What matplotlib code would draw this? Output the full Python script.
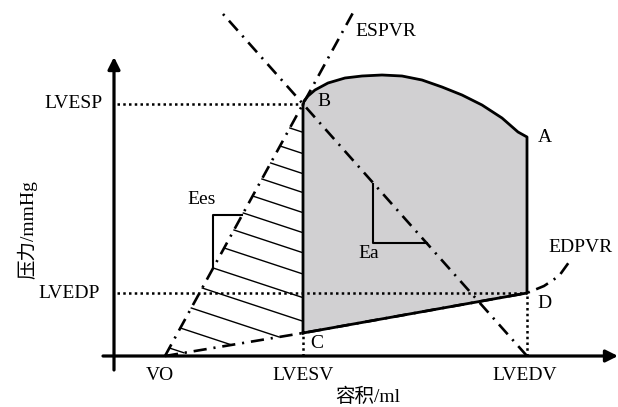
import numpy as np
import matplotlib
matplotlib.use('Agg')
import matplotlib.pyplot as plt

plt.rcParams['font.family'] = ['Liberation Serif', 'Noto Sans CJK SC']

# volumes and pressures (arbitrary units, origin at the axes crossing)
VO = 51
LVESV = 189
LVEDV = 413
LVESP = 252
LVEDP = 63
C_P = 23

# upper edge of the loop, from B round to A
eject_v = [189, 189, 190, 194, 201, 214, 231, 248, 268, 288, 308, 328, 348, 368, 388, 404, 413]
eject_p = [23, 250, 255, 260, 266, 273, 278, 280, 281, 280, 276, 269, 261, 251, 238, 224, 219]

# end-diastolic pressure-volume curve
edpvr_v = [VO, LVESV, LVEDV, 430, 445, 458]
edpvr_p = [0, C_P, LVEDP, 70, 80, 98]

# pressures where the hatch lines leave the ESPVR line
hatch_p = [228, 210, 193, 177, 160, 143, 126, 108, 88, 68, 48, 28, 8]

dashdot = (0, (5, 2.6, 0.8, 2.6))
dotted = (0, (1, 1.3))


def espvr_v(p):
	return VO + p*(LVESV - VO)/LVESP


def ea_v(p):
	return LVEDV - p*(LVEDV - LVESV)/LVESP


def main():
	fig = plt.figure(figsize=(6.18, 4.07), dpi=100)
	ax = fig.add_axes([0, 0, 1, 1])
	ax.set_xlim(-114, 504)
	ax.set_ylim(-51, 356)
	ax.axis('off')

	# axes with arrows
	ax.annotate('', xy=(0, 299), xytext=(0, -14),
		arrowprops=dict(arrowstyle='-|>', lw=2.3, color='k', mutation_scale=18, shrinkA=0, shrinkB=0))
	ax.annotate('', xy=(504, 0), xytext=(-11, 0),
		arrowprops=dict(arrowstyle='-|>', lw=2.3, color='k', mutation_scale=18, shrinkA=0, shrinkB=0))

	# pressure-volume loop
	loop_v = eject_v + [LVEDV, LVESV]
	loop_p = eject_p + [LVEDP, C_P]
	ax.fill(loop_v, loop_p, color='#d1d0d2', zorder=1)
	ax.plot(loop_v, loop_p, color='k', lw=2.0, solid_joinstyle='round', zorder=3)

	# reference dotted lines
	ax.plot([3, LVESV], [LVESP, LVESP], color='k', lw=1.8, ls=dotted)
	ax.plot([3, LVEDV], [LVEDP, LVEDP], color='k', lw=1.8, ls=dotted)
	ax.plot([LVESV, LVESV], [0, C_P], color='k', lw=1.8, ls=dotted)
	ax.plot([LVEDV, LVEDV], [0, LVEDP], color='k', lw=1.8, ls=dotted)

	# ESPVR, Ea and EDPVR lines
	ax.plot([VO, espvr_v(343)], [0, 343], color='k', lw=1.9, ls=dashdot, zorder=4)
	ax.plot([LVEDV, ea_v(343)], [0, 343], color='k', lw=1.9, ls=dashdot, zorder=4)
	ax.plot(edpvr_v, edpvr_p, color='k', lw=1.9, ls=dashdot, zorder=2)

	# hatching between ESPVR and the loop
	slope = 0.33
	edp_slope = C_P/(LVESV - VO)
	for p in hatch_p:
		v0 = espvr_v(p)
		p1 = p - slope*(LVESV - v0)
		if p1 >= C_P:
			v1 = LVESV
		else:
			v1 = (p + slope*v0 + edp_slope*VO)/(slope + edp_slope)
			p1 = edp_slope*(v1 - VO)
		ax.plot([v0, v1], [p, p1], color='k', lw=1.0, zorder=2)

	# Ees and Ea triangles
	ax.plot([espvr_v(141), 99, 99], [141, 141, 88], color='k', lw=1.5, zorder=3)
	ax.plot([259, 259, ea_v(113)], [172, 113, 113], color='k', lw=1.5, zorder=3)

	fs = 14
	ax.text(-11, LVESP, 'LVESP', fontsize=fs, ha='right', va='center')
	ax.text(-14, LVEDP, 'LVEDP', fontsize=fs, ha='right', va='center')
	ax.text(VO - 5, -20, 'VO', fontsize=fs, ha='center', va='center')
	ax.text(LVESV, -20, 'LVESV', fontsize=fs, ha='center', va='center')
	ax.text(LVEDV - 2, -20, 'LVEDV', fontsize=fs, ha='center', va='center')
	ax.text(203, 254, 'B', fontsize=fs, ha='left', va='center')
	ax.text(424, 219, 'A', fontsize=fs, ha='left', va='center')
	ax.text(196, 13, 'C', fontsize=fs, ha='left', va='center')
	ax.text(423, 53, 'D', fontsize=fs, ha='left', va='center')
	ax.text(241, 324, 'ESPVR', fontsize=fs, ha='left', va='center')
	ax.text(434, 109, 'EDPVR', fontsize=fs, ha='left', va='center')
	ax.text(88, 156, 'Ees', fontsize=fs, ha='center', va='center')
	ax.text(255, 103, 'Ea', fontsize=fs, ha='center', va='center')
	ax.text(254, -41, '容积/ml', fontsize=fs, ha='center', va='center')
	ax.text(-87, 126, '压力/mmHg', fontsize=fs, ha='center', va='center', rotation=90)

	fig.savefig('out.png', dpi=100)


if __name__ == "__main__":
	main()
